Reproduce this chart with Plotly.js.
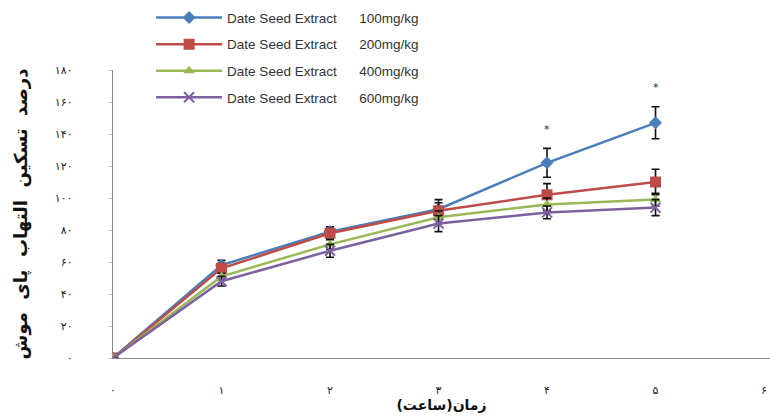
<!DOCTYPE html>
<html>
<head>
<meta charset="utf-8">
<script src="https://cdn.plot.ly/plotly-3.0.1.min.js"></script>
<style>html,body{margin:0;padding:0;background:#fff;}#chart{width:770px;height:419px;}</style>
</head>
<body>
<div id="chart"></div>
<script>
const hours = [0, 1, 2, 3, 4, 5];
const seriesNames = [
  "Date Seed Extract\u00a0\u00a0\u00a0\u00a0\u00a0\u00a0100mg/kg",
  "Date Seed Extract\u00a0\u00a0\u00a0\u00a0\u00a0\u00a0200mg/kg",
  "Date Seed Extract\u00a0\u00a0\u00a0\u00a0\u00a0\u00a0400mg/kg",
  "Date Seed Extract\u00a0\u00a0\u00a0\u00a0\u00a0\u00a0600mg/kg"
];
const dose100 = [0, 58, 79, 93, 122, 147];
const dose200 = [0, 56, 78, 92, 102, 110];
const dose400 = [0, 51, 71, 88, 96, 99];
const dose600 = [0, 48, 67, 84, 91, 94];
const err100 = [0, 3, 3, 6, 9, 10];
const err200 = [0, 3, 3, 5, 7, 8];
const err400 = [0, 2, 3, 4, 4, 4];
const err600 = [0, 3, 4, 5, 4, 5];
const xTickVals = [0, 1, 2, 3, 4, 5, 6];
const xTickText = ["۰", "۱", "۲", "۳", "۴", "۵", "۶"];
const yTickVals = [0, 20, 40, 60, 80, 100, 120, 140, 160, 180];
const yTickText = ["۰", "۲۰", "۴۰", "۶۰", "۸۰", "۱۰۰", "۱۲۰", "۱۴۰", "۱۶۰", "۱۸۰"];
const starX = [4, 5];
const starY = [143, 169];

const colors = ["#4a7ebb", "#be4b48", "#98b954", "#7d60a0"];
const symbols = ["diamond", "square", "triangle-up", "x-thin"];
const values = [dose100, dose200, dose400, dose600];
const errs = [err100, err200, err400, err600];

const traces = values.map((v, i) => ({
  x: hours, y: v, name: seriesNames[i], type: "scatter", mode: "lines+markers",
  legendgroup: "g" + i,
  line: {color: colors[i], width: 2.5},
  marker: {color: colors[i], symbol: symbols[i], size: i === 1 ? 11 : 10,
           line: {color: colors[i], width: i === 3 ? 2 : 0}},
  error_y: {type: "data", array: errs[i], visible: true, color: "#111", thickness: 1.6, width: 4}
}));

const layout = {
  width: 770, height: 419,
  margin: {l: 113, r: 0, t: 70, b: 61},
  paper_bgcolor: "#fff", plot_bgcolor: "#fff",
  font: {family: "DejaVu Sans, sans-serif", color: "#222", size: 11},
  showlegend: true,
  legend: {x: 0.058, y: 1.235, xanchor: "left", yanchor: "top", bgcolor: "rgba(0,0,0,0)",
           font: {family: "Liberation Sans, Arial, sans-serif", size: 13.5, color: "#333"},
           tracegroupgap: 6, traceorder: "grouped", itemwidth: 66},
  xaxis: {range: [0, 6.055], tickvals: xTickVals, ticktext: xTickText, showgrid: false,
          zeroline: false, showline: true, linecolor: "#888", linewidth: 1.2, ticks: "",
          ticklabelstandoff: 22, tickfont: {size: 11, color: "#222"},
          title: {text: "زمان(ساعت)", font: {size: 14, color: "#111", family: "DejaVu Sans", weight: "bold"}, standoff: 0}},
  yaxis: {range: [0, 180], tickvals: yTickVals, ticktext: yTickText, showgrid: false,
          zeroline: false, showline: true, linecolor: "#888", linewidth: 1.2, ticks: "outside",
          ticklen: 3, tickcolor: "#aaa", ticklabelstandoff: 34, tickfont: {size: 11, color: "#222"},
          title: {text: "درصد\u00a0\u00a0تسکین\u00a0\u00a0التهاب\u00a0\u00a0پای\u00a0\u00a0موش", font: {size: 18, color: "#111", family: "DejaVu Sans", weight: "bold"}, standoff: 22}},
  annotations: starX.map((x, i) => ({x: x, y: starY[i], text: "*", showarrow: false,
                                     font: {size: 11, color: "#333", family: "DejaVu Sans"}}))
};

Plotly.newPlot("chart", traces, layout, {displayModeBar: false, staticPlot: true});
</script>
</body>
</html>
